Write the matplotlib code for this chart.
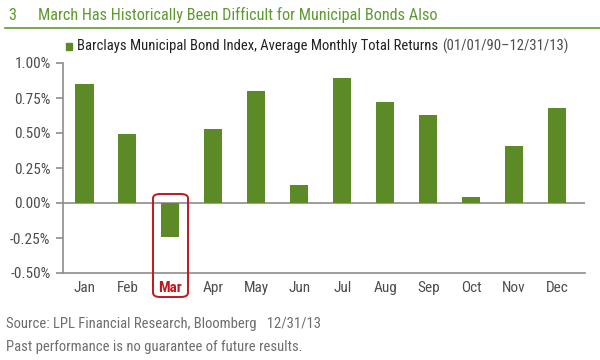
import matplotlib.pyplot as plt
from matplotlib.patches import FancyBboxPatch
from matplotlib.lines import Line2D
import matplotlib.font_manager as fm

names = {f.name for f in fm.fontManager.ttflist}
cands = ["Liberation Sans Narrow", "Roboto Condensed", "Open Sans Condensed", "DejaVu Sans Condensed"]
found = [c for c in cands if c in names]
FONT = found[0] if found else "Liberation Sans"
plt.rcParams["font.family"] = [FONT, "DejaVu Sans"]

months = ["Jan", "Feb", "Mar", "Apr", "May", "Jun", "Jul", "Aug", "Sep", "Oct", "Nov", "Dec"]
returns = [0.85, 0.49, -0.24, 0.53, 0.80, 0.13, 0.89, 0.72, 0.63, 0.04, 0.41, 0.68]
yticks = [-0.50, -0.25, 0.00, 0.25, 0.50, 0.75, 1.00]

GREEN = "#5b8a27"
TITLE_GREEN = "#5e9a32"
RED = "#c0171f"
GRAY = "#8c8c8c"
TEXT = "#4d4d4d"

fig = plt.figure(figsize=(6, 3.6), dpi=100)
ax = fig.add_axes([63 / 600, 1 - 273 / 360, (585 - 63) / 600, (273 - 63) / 360])

x = list(range(len(months)))
ax.bar(x, returns, width=0.42, color=GREEN, zorder=2)
ax.axhline(0, color=GRAY, lw=1.2, zorder=1)

ax.set_xlim(-0.5, 11.65)
ax.set_ylim(-0.5, 1.0)
ax.set_yticks(yticks)
ax.set_yticklabels([f"{v:.2f}%" for v in yticks], fontsize=11, color=TEXT)
ax.set_xticks(x)
ax.set_xticklabels(months, fontsize=11, color=TEXT)
ax.tick_params(axis="y", direction="out", length=5, color=GRAY, width=1.2, pad=4)
ax.tick_params(axis="x", length=0, pad=6)
for lab in ax.get_xticklabels():
    if lab.get_text() == "Mar":
        lab.set_color(RED)
        lab.set_fontweight("bold")

for side in ["top", "right"]:
    ax.spines[side].set_visible(False)
for side in ["left", "bottom"]:
    ax.spines[side].set_color(GRAY)
    ax.spines[side].set_linewidth(1.2)

# red highlight box around March
box = FancyBboxPatch((153 / 600, 1 - 297 / 360), 35 / 600, 103 / 360,
                     boxstyle="round,pad=0,rounding_size=0.012",
                     transform=fig.transFigure, fill=False,
                     edgecolor=RED, lw=1.4, zorder=5)
fig.patches.append(box)

# title
fig.text(8 / 600, 1 - 15 / 360, "3", fontsize=11.7, color=TITLE_GREEN, va="center")
fig.text(38 / 600, 1 - 15 / 360, "March Has Historically Been Difficult for Municipal Bonds Also",
         fontsize=11.7, color=TITLE_GREEN, va="center")
fig.add_artist(Line2D([5 / 600, 1], [1 - 28 / 360, 1 - 28 / 360], color=TITLE_GREEN,
                      lw=1.2, transform=fig.transFigure))

# legend
fig.patches.append(plt.Rectangle((66 / 600, 1 - 50 / 360), 6 / 600, 7 / 360,
                                 color=GREEN, transform=fig.transFigure))
leg = fig.text(77 / 600, 1 - 46 / 360, "Barclays Municipal Bond Index, Average Monthly Total Returns",
               fontsize=10.5, color="#222222", va="center")
renderer = fig.canvas.get_renderer()
bb = leg.get_window_extent(renderer)
fig.text((bb.x1 + 4) / 600, 1 - 46 / 360, "(01/01/90\u201312/31/13)",
         fontsize=10.5, color=TEXT, va="center")

# footnotes
fig.text(6 / 600, 1 - 324 / 360, "Source: LPL Financial Research, Bloomberg   12/31/13",
         fontsize=10.5, color="#6e6e6e", va="center")
fig.text(6 / 600, 1 - 347 / 360, "Past performance is no guarantee of future results.",
         fontsize=10.5, color="#6e6e6e", va="center")

fig.savefig("out.png", dpi=100)
